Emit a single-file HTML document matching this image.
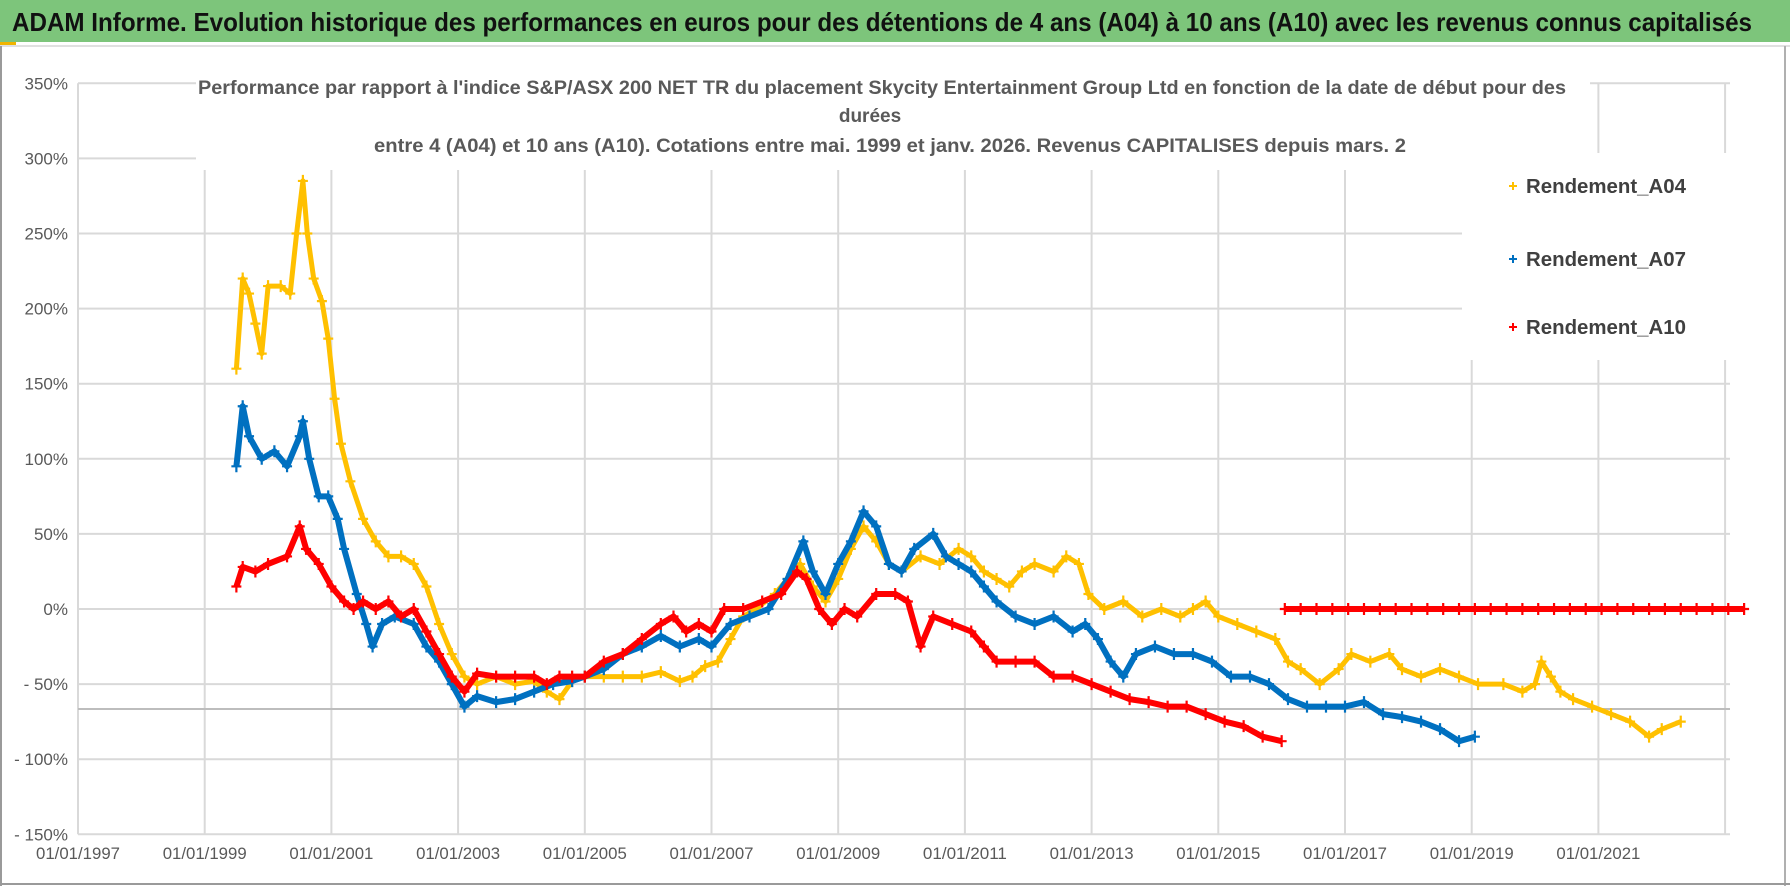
<!DOCTYPE html>
<html><head><meta charset="utf-8"><style>
html,body{margin:0;padding:0;background:#fff;}
svg{display:block;font-family:"Liberation Sans",sans-serif;}
</style></head><body>
<svg id="chart" width="1790" height="886" viewBox="0 0 1790 886" xmlns="http://www.w3.org/2000/svg">
<rect x="0" y="0" width="1790" height="886" fill="#fff"/>
<rect x="0" y="0" width="1790" height="42" fill="#7dc57b"/>
<rect x="0" y="42" width="16" height="3" fill="#f0b400"/>
<line x1="0" y1="46" x2="1790" y2="46" stroke="#e0e0e0" stroke-width="2"/>
<text x="12" y="31" font-size="26" font-weight="bold" fill="#111" textLength="1740" lengthAdjust="spacingAndGlyphs">ADAM Informe. Evolution historique des performances en euros pour des détentions de 4 ans (A04) à 10 ans (A10) avec les revenus connus capitalisés</text>
<line x1="1" y1="46" x2="1" y2="886" stroke="#9a9a9a" stroke-width="2"/>
<line x1="1785" y1="46" x2="1785" y2="886" stroke="#b0b0b0" stroke-width="2"/>
<line x1="0" y1="884" x2="1790" y2="884" stroke="#9a9a9a" stroke-width="2"/>
<g id="grid"></g>
<rect x="196" y="70" width="1394" height="100" fill="#fff"/>
<rect x="1462" y="153" width="268" height="207" fill="#fff"/>
<g font-size="19" font-weight="bold" fill="#595959">
<text x="198" y="94" textLength="1368" lengthAdjust="spacingAndGlyphs">Performance par rapport à l'indice S&amp;P/ASX 200 NET TR  du placement Skycity Entertainment Group Ltd en fonction de la date de début pour des</text>
<text x="870" y="122" text-anchor="middle">durées</text>
<text x="374" y="152" textLength="1032" lengthAdjust="spacingAndGlyphs">entre 4 (A04) et 10 ans (A10). Cotations entre mai. 1999 et janv. 2026. Revenus CAPITALISES depuis mars. 2</text>
</g>
<g id="axes"></g>
<g id="series"></g>
<g id="legend"></g>
</svg>
<script>
const yTicks=[350,300,250,200,150,100,50,0,-50,-100,-150];
const xTickYears=[1997,1999,2001,2003,2005,2007,2009,2011,2013,2015,2017,2019,2021];
const seriesNames=["Rendement_A04","Rendement_A07","Rendement_A10"];
const a04Dates=[1999.5,1999.6,1999.7,1999.8,1999.9,2000.0,2000.2,2000.35,2000.45,2000.55,2000.62,2000.72,2000.85,2000.95,2001.05,2001.15,2001.3,2001.5,2001.7,2001.9,2002.1,2002.3,2002.5,2002.7,2002.9,2003.1,2003.3,2003.6,2003.9,2004.2,2004.4,2004.6,2004.8,2005.0,2005.3,2005.6,2005.9,2006.2,2006.5,2006.7,2006.9,2007.1,2007.3,2007.5,2007.7,2008.0,2008.2,2008.4,2008.6,2008.8,2009.0,2009.2,2009.4,2009.6,2009.8,2010.0,2010.3,2010.6,2010.9,2011.1,2011.3,2011.5,2011.7,2011.9,2012.1,2012.4,2012.6,2012.8,2012.95,2013.2,2013.5,2013.8,2014.1,2014.4,2014.6,2014.8,2015.0,2015.3,2015.6,2015.9,2016.1,2016.3,2016.6,2016.9,2017.1,2017.4,2017.7,2017.9,2018.2,2018.5,2018.8,2019.1,2019.5,2019.8,2020.0,2020.1,2020.25,2020.4,2020.6,2020.9,2021.2,2021.5,2021.8,2022.0,2022.3];
const a04Values=[160,220,210,190,170,215,215,210,250,285,250,220,205,180,140,110,85,60,45,35,35,30,15,-10,-30,-45,-50,-45,-50,-48,-55,-60,-48,-45,-45,-45,-45,-42,-48,-45,-38,-35,-20,-5,0,10,20,30,15,5,20,40,55,45,30,25,35,30,40,35,25,20,15,25,30,25,35,30,10,0,5,-5,0,-5,0,5,-5,-10,-15,-20,-35,-40,-50,-40,-30,-35,-30,-40,-45,-40,-45,-50,-50,-55,-50,-35,-45,-55,-60,-65,-70,-75,-85,-80,-75];
const a07Dates=[1999.5,1999.6,1999.7,1999.9,2000.1,2000.3,2000.5,2000.55,2000.65,2000.8,2000.95,2001.1,2001.2,2001.4,2001.55,2001.65,2001.8,2002.0,2002.3,2002.5,2002.7,2002.9,2003.1,2003.3,2003.6,2003.9,2004.2,2004.5,2004.8,2005.0,2005.3,2005.6,2005.9,2006.2,2006.5,2006.8,2007.0,2007.3,2007.6,2007.9,2008.2,2008.45,2008.6,2008.8,2009.0,2009.2,2009.4,2009.6,2009.8,2010.0,2010.2,2010.5,2010.7,2010.9,2011.1,2011.3,2011.5,2011.8,2012.1,2012.4,2012.7,2012.9,2013.1,2013.3,2013.5,2013.7,2014.0,2014.3,2014.6,2014.9,2015.2,2015.5,2015.8,2016.1,2016.4,2016.7,2017.0,2017.3,2017.6,2017.9,2018.2,2018.5,2018.8,2019.05];
const a07Values=[95,135,115,100,105,95,115,125,100,75,75,60,40,10,-10,-25,-10,-5,-10,-25,-35,-50,-65,-58,-62,-60,-55,-50,-48,-45,-40,-30,-25,-18,-25,-20,-25,-10,-5,0,20,45,25,10,30,45,65,55,30,25,40,50,35,30,25,15,5,-5,-10,-5,-15,-10,-20,-35,-45,-30,-25,-30,-30,-35,-45,-45,-50,-60,-65,-65,-65,-62,-70,-72,-75,-80,-88,-85];
const a10Dates=[1999.5,1999.6,1999.8,2000.0,2000.3,2000.5,2000.6,2000.8,2001.0,2001.2,2001.35,2001.5,2001.7,2001.9,2002.1,2002.3,2002.5,2002.7,2002.9,2003.1,2003.3,2003.6,2003.9,2004.2,2004.4,2004.6,2004.8,2005.0,2005.3,2005.6,2005.9,2006.2,2006.4,2006.6,2006.8,2007.0,2007.2,2007.5,2007.8,2008.1,2008.35,2008.5,2008.7,2008.9,2009.1,2009.3,2009.6,2009.9,2010.1,2010.3,2010.5,2010.8,2011.1,2011.3,2011.5,2011.8,2012.1,2012.4,2012.7,2013.0,2013.3,2013.6,2013.9,2014.2,2014.5,2014.8,2015.1,2015.4,2015.7,2016.0];
const a10Values=[15,28,25,30,35,55,40,30,15,5,0,5,0,5,-5,0,-15,-30,-45,-55,-43,-45,-45,-45,-50,-45,-45,-45,-35,-30,-20,-10,-5,-15,-10,-15,0,0,5,10,25,20,0,-10,0,-5,10,10,5,-25,-5,-10,-15,-25,-35,-35,-35,-45,-45,-50,-55,-60,-62,-65,-65,-70,-75,-78,-85,-88];
const a10TailDates=[2016.05,2016.3,2016.55,2016.8,2017.05,2017.3,2017.55,2017.8,2018.05,2018.3,2018.55,2018.8,2019.05,2019.3,2019.55,2019.8,2020.05,2020.3,2020.55,2020.8,2021.05,2021.3,2021.55,2021.8,2022.05,2022.3,2022.55,2022.8,2023.05,2023.3];
const a10TailValues=[0,0,0,0,0,0,0,0,0,0,0,0,0,0,0,0,0,0,0,0,0,0,0,0,0,0,0,0,0,0];

const NS="http://www.w3.org/2000/svg";
const X0=78,PXY=63.35,Y0=609,PXP=1.502,XR=1730;
function xs(yr){return X0+(yr-1997)*PXY;}
function ys(p){return Y0-p*PXP;}
function mk(tag,attrs,parent){const e=document.createElementNS(NS,tag);for(const k in attrs)e.setAttribute(k,attrs[k]);parent.appendChild(e);return e;}

const grid=document.getElementById('grid');
yTicks.forEach(t=>{
  const l=mk('line',{x1:X0,x2:XR,y1:ys(t),y2:ys(t),stroke:'#d9d9d9','stroke-width':2},grid);
  
  
});
for(let yr=1997;yr<=2023;yr+=2){
  const l=mk('line',{x1:xs(yr),x2:xs(yr),y1:ys(350),y2:ys(-150),stroke:'#d9d9d9','stroke-width':2},grid);
  
  
}
const ref=mk('line',{x1:X0,x2:XR,y1:709,y2:709,stroke:'#bdbdbd','stroke-width':2},grid);



const axes=document.getElementById('axes');
yTicks.forEach(t=>{
  const tx=mk('text',{x:68,y:ys(t)+6,'text-anchor':'end','font-size':17,fill:'#595959'},axes);
  tx.textContent=(t<0?'- '+(-t):t)+'%';
  
  
});
xTickYears.forEach(yr=>{
  const tx=mk('text',{x:xs(yr),y:859,'text-anchor':'middle','font-size':17,fill:'#595959',textLength:84,lengthAdjust:'spacingAndGlyphs'},axes);
  tx.textContent='01/01/'+yr;
  
  
});

const series=document.getElementById('series');
function drawSeries(dates,vals,color,name,lw){
  const g=mk('g',{},series);
  
  
  const pts=dates.map((d,i)=>xs(d).toFixed(1)+','+ys(vals[i]).toFixed(1)).join(' ');
  mk('polyline',{points:pts,fill:'none',stroke:color,'stroke-width':lw,'stroke-linejoin':'round'},g);
  dates.forEach((d,i)=>{
    const cx=xs(d),cy=ys(vals[i]);
    const p=mk('path',{d:`M${cx-5},${cy}h10M${cx},${cy-6}v12`,stroke:color,'stroke-width':2.2},g);
    
    
  });
}
drawSeries(a04Dates,a04Values,'#ffc000','series-a04',5);
drawSeries(a07Dates,a07Values,'#0070c0','series-a07',6);
drawSeries(a10Dates,a10Values,'#ff0000','series-a10',6);
drawSeries(a10TailDates,a10TailValues,'#ff0000','series-a10-tail',6);

const leg=document.getElementById('legend');
const cols=['#ffc000','#0070c0','#ff0000'];
const ly=[186,259,327];
seriesNames.forEach((n,i)=>{
  const g=mk('g',{},leg);
  
  
  mk('path',{d:`M${1509},${ly[i]}h8M${1513},${ly[i]-4}v8`,stroke:cols[i],'stroke-width':2},g);
  const t=mk('text',{x:1526,y:ly[i]+7,'font-size':20,'font-weight':'bold',fill:'#404040',textLength:160,lengthAdjust:'spacingAndGlyphs'},g);
  t.textContent=n;
});
</script>
</body></html>
